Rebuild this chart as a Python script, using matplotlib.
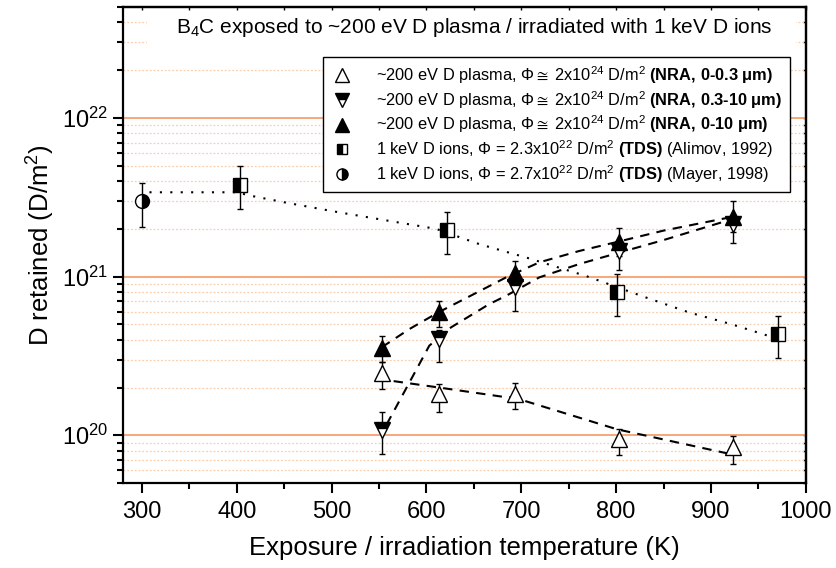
import matplotlib
matplotlib.use("Agg")
from matplotlib import pyplot as plt
from matplotlib.lines import Line2D
from matplotlib.patches import Rectangle
import matplotlib.ticker as mticker
import numpy as np

plt.rcParams['font.family'] = ['Liberation Sans', 'DejaVu Sans']
plt.rcParams['mathtext.fontset'] = 'custom'
plt.rcParams['mathtext.rm'] = 'Liberation Sans'
plt.rcParams['mathtext.it'] = 'Liberation Sans:italic'
plt.rcParams['mathtext.bf'] = 'Liberation Sans:bold'
plt.rcParams['mathtext.fallback'] = 'stixsans'

# ---- data ----
# NRA after ~200 eV D plasma exposure
T_plasma = [553, 613, 693, 803, 923]
nra_03 = [2.46e20, 1.81e20, 1.82e20, 9.5e19, 8.4e19]
nra_03_lo = [1.95e20, 1.41e20, 1.46e20, 7.5e19, 6.6e19]
nra_03_hi = [2.9e20, 2.1e20, 2.15e20, 1.1e20, 9.9e19]

nra_310 = [1.08e20, 4.07e20, 8.6e20, 1.46e21, 2.14e21]
nra_310_lo = [7.6e19, 2.9e20, 6.1e20, 1.1e21, 1.62e21]
nra_310_hi = [1.41e20, 4.6e20, 9.6e20, 1.66e21, 2.4e21]

nra_010 = [3.57e20, 5.94e20, 1.06e21, 1.66e21, 2.38e21]
nra_010_lo = [2.9e20, 4.8e20, 8.9e20, 1.35e21, 1.9e21]
nra_010_hi = [4.2e20, 7.0e20, 1.26e21, 2.02e21, 3.0e21]

# TDS after 1 keV D ion irradiation
T_alimov = [403, 622, 801, 971]
alimov = [3.8e21, 1.97e21, 8.0e20, 4.34e20]
alimov_lo = [2.67e21, 1.39e21, 5.66e20, 3.05e20]
alimov_hi = [4.95e21, 2.57e21, 1.04e21, 5.66e20]

T_mayer = [300]
mayer = [2.98e21]
mayer_lo = [2.06e21]
mayer_hi = [3.87e21]

# guide-to-the-eye curves
T_fit_tds = [308, 400, 414, 454, 508, 543, 610, 656, 705, 768, 831, 877, 922, 965]
fit_tds = [3.4e21, 3.4e21, 3.24e21, 2.91e21, 2.54e21, 2.34e21, 2.0e21, 1.6e21,
           1.32e21, 1.01e21, 7.4e20, 5.94e20, 5.0e20, 4.15e20]
T_fit_03 = [548, 613, 680, 692, 801, 921]
fit_03 = [2.27e20, 2.0e20, 1.75e20, 1.73e20, 1.09e20, 7.6e19]
T_fit_010 = [553, 582, 613, 650, 684, 719, 761, 802, 850, 921]
fit_010 = [3.59e20, 4.67e20, 5.97e20, 7.76e20, 9.89e20, 1.23e21, 1.45e21,
           1.66e21, 1.95e21, 2.37e21]
T_fit_310 = [558, 582, 603, 626, 666, 684, 719, 761, 802, 850, 921]
fit_310 = [1.17e20, 2.15e20, 3.67e20, 4.79e20, 6.70e20, 7.57e20, 9.89e20,
           1.20e21, 1.41e21, 1.70e21, 2.29e21]

labels = [
    r"~200 eV D plasma, $\mathit{\Phi} \cong$ 2x10$^{24}$ D/m$^2$ $\mathbf{(NRA,\,0‐0.3\ μm)}$",
    r"~200 eV D plasma, $\mathit{\Phi} \cong$ 2x10$^{24}$ D/m$^2$ $\mathbf{(NRA,\,0.3‐10\ μm)}$",
    r"~200 eV D plasma, $\mathit{\Phi} \cong$ 2x10$^{24}$ D/m$^2$ $\mathbf{(NRA,\,0‐10\ μm)}$",
    r"1 keV D ions, $\mathit{\Phi}$ = 2.3x10$^{22}$ D/m$^2$ $\mathbf{(TDS)}$ (Alimov, 1992)",
    r"1 keV D ions, $\mathit{\Phi}$ = 2.7x10$^{22}$ D/m$^2$ $\mathbf{(TDS)}$ (Mayer, 1998)",
]

fig = plt.figure(figsize=(8.36, 5.68), dpi=100)
ax = fig.add_axes([0.147, 0.1496, 0.817, 0.838])
ax.set_yscale('log')
ax.set_xlim(280, 1000)
ax.set_ylim(5e19, 5e22)
ax.set_axisbelow(True)

# curves
ax.plot(T_fit_tds, fit_tds, color='black', linestyle=(0, (1, 4)), lw=1.5, zorder=2)
for tt, ff in [(T_fit_03, fit_03), (T_fit_010, fit_010), (T_fit_310, fit_310)]:
    ax.plot(tt, ff, color='black', linestyle=(0, (4.5, 3.5)), lw=1.5, zorder=2)


def errs(v, lo, hi):
    v = np.array(v); lo = np.array(lo); hi = np.array(hi)
    return [v - lo, hi - v]


eb = dict(ecolor='black', elinewidth=1, capsize=2, capthick=1, linestyle='none',
          markeredgecolor='black', markeredgewidth=1, zorder=3)
ax.errorbar(T_plasma, nra_03, yerr=errs(nra_03, nra_03_lo, nra_03_hi), marker='^',
            markersize=12, markerfacecolor='white', **eb)
ax.errorbar(T_plasma, nra_310, yerr=errs(nra_310, nra_310_lo, nra_310_hi), marker='v',
            markersize=12, markerfacecolor='black', markerfacecoloralt='white',
            fillstyle='top', **eb)
ax.errorbar(T_plasma, nra_010, yerr=errs(nra_010, nra_010_lo, nra_010_hi), marker='^',
            markersize=12, markerfacecolor='black', **eb)
ax.errorbar(T_alimov, alimov, yerr=errs(alimov, alimov_lo, alimov_hi), marker='s',
            markersize=9.5, markerfacecolor='black', markerfacecoloralt='white',
            fillstyle='left', **eb)
ax.errorbar(T_mayer, mayer, yerr=errs(mayer, mayer_lo, mayer_hi), marker='o',
            markersize=10, markerfacecolor='black', markerfacecoloralt='white',
            fillstyle='right', **eb)

# grid
ax.yaxis.grid(True, which='major', color='#f4a070', lw=1.3, linestyle='-')
ax.yaxis.grid(True, which='minor', color='#f9cfae', lw=0.9, linestyle=(0, (1.5, 1.5)))

# ticks
ax.xaxis.set_major_locator(mticker.MultipleLocator(100))
ax.xaxis.set_minor_locator(mticker.MultipleLocator(50))
ax.yaxis.set_major_locator(mticker.LogLocator(base=10, numticks=10))
ax.yaxis.set_minor_locator(mticker.LogLocator(base=10, subs=np.arange(2, 10), numticks=20))
ax.yaxis.set_minor_formatter(mticker.NullFormatter())
ax.tick_params(which='major', direction='out', length=7, width=1.5, labelsize=17)
ax.tick_params(which='minor', direction='out', length=4, width=1.5)
ax.tick_params(axis='x', pad=6)
for s in ax.spines.values():
    s.set_linewidth(1.6)

ax_r = ax.secondary_yaxis('right')
ax_r.tick_params(which='both', direction='in', length=2.5, width=1, labelright=False)
ax_r.yaxis.set_minor_locator(mticker.LogLocator(base=10, subs=np.arange(2, 10), numticks=20))
ax_r.yaxis.set_minor_formatter(mticker.NullFormatter())
ax_r.spines['right'].set_linewidth(1.6)
ax_t = ax.secondary_xaxis('top')
ax_t.xaxis.set_major_locator(mticker.MultipleLocator(50))
ax_t.tick_params(which='both', direction='in', length=2.5, width=1, labeltop=False)
ax_t.spines['top'].set_linewidth(1.6)

ax.set_xlabel('Exposure / irradiation temperature (K)', fontsize=18.5, labelpad=9)
ax.set_ylabel('D retained (D/m$^2$)', fontsize=18.5, labelpad=4)

# header text on white patch
ax.add_patch(Rectangle((0.035, 0.905), 0.95, 0.08, transform=ax.transAxes,
                       facecolor='white', edgecolor='none', zorder=1))
ax.text(0.515, 0.956, r"B$_4$C exposed to ~200 eV D plasma / irradiated with 1 keV D ions",
        transform=ax.transAxes, ha='center', va='center', fontsize=15, zorder=4)

handles = [
    Line2D([], [], ls='none', marker='^', ms=9.5, mfc='white', mec='black'),
    Line2D([], [], ls='none', marker='v', ms=9.5, mfc='black', mfcalt='white',
           fillstyle='top', mec='black'),
    Line2D([], [], ls='none', marker='^', ms=9.5, mfc='black', mec='black'),
    Line2D([], [], ls='none', marker='s', ms=7.5, mfc='black', mfcalt='white',
           fillstyle='left', mec='black'),
    Line2D([], [], ls='none', marker='o', ms=8, mfc='black', mfcalt='white',
           fillstyle='right', mec='black'),
]
leg = ax.legend(handles, labels, loc='upper left', bbox_to_anchor=(0.293, 0.895),
                borderaxespad=0, fontsize=11.8, fancybox=False, framealpha=1,
                edgecolor='black', handlelength=1.45, handletextpad=1.35,
                labelspacing=0.18, borderpad=0.45)
leg.get_frame().set_linewidth(1)

fig.savefig('out.png', dpi=100)
